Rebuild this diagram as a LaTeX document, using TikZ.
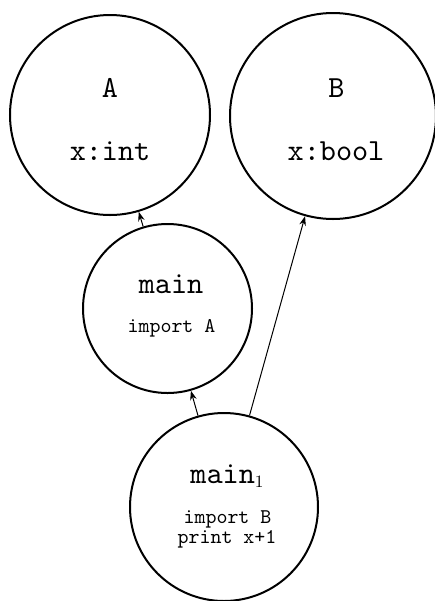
\documentclass[tikz,border=0pt]{standalone}
\usetikzlibrary{arrows.meta}

\tikzset{every picture/.style={line width=0.75pt}}
\font\bigtt=cmtt10 at 23pt
\font\smalltt=cmtt10 at 15.7pt
\font\subrm=cmr10 at 13pt

\begin{document}
\begin{tikzpicture}[x=0.75pt,y=0.75pt,yscale=-1,xscale=1,
	modcircle/.style={circle,draw,line width=1.5,inner sep=0pt},
	dep/.style={-{Stealth[length=7pt,width=5pt]}}]
	\useasboundingbox (0,0) rectangle (435,601);
	
	%Shape: Circle [id:A] 
	\node [modcircle,minimum size=150pt] (A) at (110,115) {};
	%Shape: Circle [id:B] 
	\node [modcircle,minimum size=154.5pt] (B) at (333,116) {};
	%Shape: Circle [id:main] 
	\node [modcircle,minimum size=126.75pt] (main) at (167.5,308.5) {};
	%Shape: Circle [id:main1] 
	\node [modcircle,minimum size=141pt] (main1) at (224,507) {};
	
	%Straight Lines [id:main-A] 
	\draw [dep] (main) -- (A) ;
	%Straight Lines [id:main1-main] 
	\draw [dep] (main1) -- (main) ;
	%Straight Lines [id:main1-B] 
	\draw [dep] (main1) -- (B) ;
	
	% Text Node
	\draw (110,97) node [anchor=base][inner sep=0.75pt]    {\bigtt A};
	% Text Node
	\draw (110,160) node [anchor=base][inner sep=0.75pt]    {\bigtt x:int};
	% Text Node
	\draw (336.5,97) node [anchor=base][inner sep=0.75pt]    {\bigtt B};
	% Text Node
	\draw (336,160) node [anchor=base][inner sep=0.75pt]    {\bigtt x:bool};
	% Text Node
	\draw (171,293) node [anchor=base][inner sep=0.75pt]    {\bigtt main};
	% Text Node
	\draw (171.5,332) node [anchor=base][inner sep=0.75pt]    {\smalltt import A};
	% Text Node
	\draw (227,483) node [anchor=base][inner sep=0.75pt]    {\bigtt main\lower3.5pt\hbox{\subrm 1}};
	% Text Node
	\draw (227.5,523) node [anchor=base][inner sep=0.75pt]    {\smalltt import B};
	% Text Node
	\draw (227,543) node [anchor=base][inner sep=0.75pt]    {\smalltt print x+1};
	
\end{tikzpicture}
\end{document}
